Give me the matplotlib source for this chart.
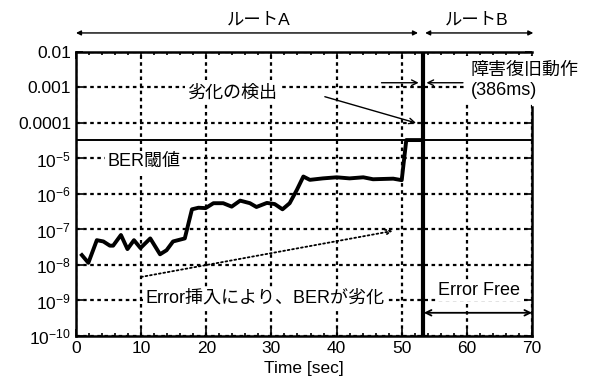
import matplotlib.pyplot as plt
import matplotlib.ticker as mticker
import numpy as np

plt.rcParams['font.family'] = ['Liberation Sans', 'Noto Sans CJK JP', 'DejaVu Sans']
plt.rcParams['mathtext.default'] = 'regular'

# BER trace (route A)
time_sec = [0.9, 1.9, 3.2, 4.2, 5.2, 5.7, 6.9, 7.9, 8.9, 9.9, 11.4, 12.9, 13.9,
            14.9, 16.7, 17.8, 18.8, 19.9, 21.1, 22.6, 23.9, 25.2, 26.7, 27.7,
            29.3, 30.5, 31.7, 32.8, 33.9, 34.9, 35.9, 37.9, 40.0, 42.0, 44.1,
            45.6, 48.7, 50.0, 50.7, 52.8]
ber = [1.9e-8, 1.15e-8, 5.0e-8, 4.6e-8, 3.5e-8, 3.5e-8, 7.0e-8, 2.8e-8,
       5.0e-8, 3.0e-8, 5.6e-8, 2.0e-8, 2.6e-8, 4.6e-8, 5.6e-8, 3.7e-7,
       4.1e-7, 4.0e-7, 5.5e-7, 5.5e-7, 4.4e-7, 6.5e-7, 5.5e-7, 4.3e-7,
       5.6e-7, 5.2e-7, 3.7e-7, 5.5e-7, 1.3e-6, 3.1e-6, 2.5e-6, 2.75e-6,
       2.95e-6, 2.75e-6, 2.95e-6, 2.6e-6, 2.7e-6, 2.45e-6, 3.3e-5, 3.3e-5]

ber_threshold = 3.3e-5
switch_time = 53.2
ytick_vals = [1e-2, 1e-3, 1e-4, 1e-5, 1e-6, 1e-7, 1e-8, 1e-9, 1e-10]
ytick_labels = ['0.01', '0.001', '0.0001', '$10^{-5}$', '$10^{-6}$',
                '$10^{-7}$', '$10^{-8}$', '$10^{-9}$', '$10^{-10}$']

fig = plt.figure(figsize=(5.9, 3.92), dpi=100)
ax = fig.add_axes([0.1288, 0.1429, 0.7729, 0.7245])

ax.set_yscale('log')
ax.set_xlim(0, 70)
ax.set_ylim(1e-10, 1e-2)

ax.plot(time_sec, ber, color='black', lw=2.8, zorder=4)
ax.axhline(ber_threshold, color='black', lw=1.4, zorder=3)
ax.axvline(switch_time, color='black', lw=3, zorder=4)

ax.set_xticks(np.arange(0, 71, 10))
ax.set_yticks(ytick_vals)
ax.set_yticklabels(ytick_labels)
ax.minorticks_on()
ax.yaxis.set_minor_locator(mticker.LogLocator(base=10, subs=np.arange(2, 10)))
ax.yaxis.set_minor_formatter(mticker.NullFormatter())
ax.xaxis.set_minor_locator(mticker.MultipleLocator(2))
ax.tick_params(which='both', direction='in', top=True, right=True,
               labelsize=12.5, width=1.2)
ax.tick_params(which='major', length=5)
ax.tick_params(which='minor', length=2.5)
ax.grid(True, which='major', color='black', linestyle=(0, (1.6, 1.6)),
        linewidth=1.6, zorder=1)
ax.grid(False, which='minor')
ax.set_axisbelow(True)
for s in ax.spines.values():
    s.set_linewidth(1.8)
ax.spines['right'].set_bounds(1e-10, 2.8e-4)

ax.set_xlabel('Time [sec]', fontsize=12.5)

wb = dict(facecolor='white', edgecolor='none', pad=1.5)
trans = ax.get_xaxis_transform()

# route arrows above the plot
ax.annotate('', xy=(0, 1.067), xytext=(52.5, 1.067), xycoords=trans,
            arrowprops=dict(arrowstyle='<|-|>', color='black', lw=1,
                            mutation_scale=7, shrinkA=0, shrinkB=0),
            annotation_clip=False)
ax.annotate('', xy=(53.6, 1.067), xytext=(70.2, 1.067), xycoords=trans,
            arrowprops=dict(arrowstyle='<|-|>', color='black', lw=1,
                            mutation_scale=7, shrinkA=0, shrinkB=0),
            annotation_clip=False)
ax.text(28, 1.113, 'ルートA', transform=trans, ha='center', va='center',
        fontsize=12.5)
ax.text(61.5, 1.113, 'ルートB', transform=trans, ha='center', va='center',
        fontsize=12.5)

# detection annotation
ax.text(23.9, 7e-4, '劣化の検出', ha='center', va='center', fontsize=13,
        bbox=wb, zorder=5)
ax.annotate('', xy=(52.2, 1.0e-4), xytext=(38.2, 5.5e-4),
            arrowprops=dict(arrowstyle='->', color='black', lw=1,
                            shrinkA=0, shrinkB=0), zorder=5)

# recovery time annotation
ax.text(60.6, 1.6e-3, '障害復旧動作\n(386ms)', ha='left', va='center',
        fontsize=13, linespacing=1.2, zorder=6, clip_on=False,
        bbox=dict(facecolor='white', edgecolor='none', pad=4))
ax.annotate('', xy=(52.6, 1.36e-3), xytext=(46.9, 1.36e-3),
            arrowprops=dict(arrowstyle='->', color='black', lw=1,
                            shrinkA=0, shrinkB=0), zorder=7)
ax.annotate('', xy=(53.8, 1.36e-3), xytext=(59.4, 1.36e-3),
            arrowprops=dict(arrowstyle='->', color='black', lw=1,
                            shrinkA=0, shrinkB=0), zorder=7)

ax.text(4.8, 8e-6, 'BER閾値', ha='left', va='center', fontsize=13,
        bbox=wb, zorder=5)

# error insertion annotation
ax.text(10.6, 1.15e-9, 'Error挿入により、BERが劣化', ha='left', va='center',
        fontsize=13, bbox=wb, zorder=5)
ax.annotate('', xy=(48.6, 9.1e-8), xytext=(10.0, 4.6e-9),
            arrowprops=dict(arrowstyle='->', color='black', lw=1.3,
                            ls=(0, (1, 1.5)), shrinkA=0, shrinkB=0), zorder=5)

ax.text(61.9, 1.9e-9, 'Error Free', ha='center', va='center', fontsize=13,
        bbox=wb, zorder=5)
ax.annotate('', xy=(53.4, 4.5e-10), xytext=(70, 4.5e-10),
            arrowprops=dict(arrowstyle='<->', color='black', lw=1.3,
                            shrinkA=0, shrinkB=0), zorder=5)

fig.savefig('out.png', dpi=100)
